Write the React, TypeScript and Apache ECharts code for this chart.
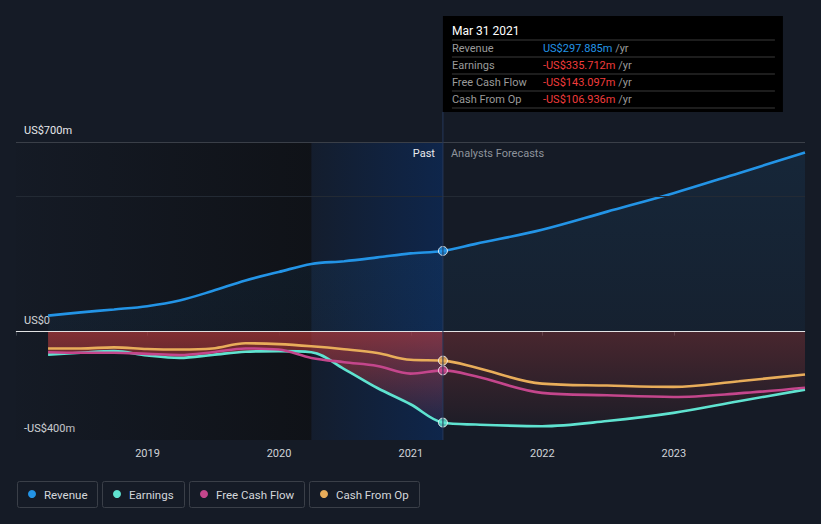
import React, { useEffect, useRef } from 'react';
import * as echarts from 'echarts';

// ---- data ----
const pastDates = ['2018-03-31', '2018-06-30', '2018-09-30', '2018-12-31', '2019-03-31', '2019-06-30', '2019-09-30', '2019-12-31', '2020-03-31', '2020-06-30', '2020-09-30', '2020-12-31', '2021-03-31'];
const forecastDates = ['2021-06-30', '2021-12-31', '2022-06-30', '2022-12-31', '2023-06-30', '2023-12-31'];

const revenuePast = [59, 71, 82, 94, 115, 150, 189, 220, 250, 260, 274, 289, 297.885];
const earningsPast = [-85, -78, -72, -88, -97, -86, -74, -72, -76, -138, -208, -268, -335.712];
const fcfPast = [-76, -78, -78, -82, -86, -76, -62, -66, -97, -113, -127, -155, -143.097];
const cfoPast = [-62, -62, -58, -64, -66, -62, -43, -46, -54, -65, -79, -104, -106.936];

const revenueForecast = [324, 376, 443, 511, 585, 661];
const earningsForecast = [-343, -349, -330, -300, -257, -214];
const fcfForecast = [-165, -226, -235, -241, -228, -207];
const cfoForecast = [-132, -192, -199, -204, -183, -158];

const seriesNames = ['Revenue', 'Earnings', 'Free Cash Flow', 'Cash From Op'];
const seriesColors = ['#2394e6', '#5fe3d0', '#c4468c', '#e8ad5a'];

const yMin = -400;
const yMax = 700;
const yInterval = 100;
const yLabelValues = [700, 0, -400];
const yLabelTexts = ['US$700m', 'US$0', '-US$400m'];
const gridValues = [700, 500];

const xMinDate = '2018-01-01';
const xMaxDate = '2023-12-31';
const highlightStartDate = '2020-03-31';
const tooltipTitle = 'Mar 31 2021';
const pastLabel = 'Past';
const forecastLabel = 'Analysts Forecasts';

const FONT = 'Roboto, "Noto Sans", sans-serif';

const ts = (s: string) => {
  const [y, m, d] = s.split('-').map(Number);
  return new Date(y, m - 1, d).getTime();
};

const pairs = (dates: string[], vals: number[]) => dates.map((d, i) => [ts(d), vals[i]]);
const lastPast = pastDates[pastDates.length - 1];
const fullDates = [...pastDates, ...forecastDates];
const revenueAll = [...revenuePast, ...revenueForecast];
const earningsAll = [...earningsPast, ...earningsForecast];
const fcfAll = [...fcfPast, ...fcfForecast];
const cfoAll = [...cfoPast, ...cfoForecast];
const allSeries = [revenueAll, earningsAll, fcfAll, cfoAll];
const lastValues = [revenuePast, earningsPast, fcfPast, cfoPast].map((a) => a[a.length - 1]);

const fmt = (v: number) => (v < 0 ? '-' : '') + 'US$' + Math.abs(v).toFixed(3) + 'm';

const lin = (x2: number, y2: number, stops: [number, string][]) =>
  new echarts.graphic.LinearGradient(0, 0, x2, y2, stops.map(([offset, color]) => ({ offset, color })));

export default function App() {
  const ref = useRef<HTMLDivElement>(null);

  useEffect(() => {
    document.body.style.margin = '0';
    const chart = echarts.init(ref.current!, null, { renderer: 'svg' });

    const SMOOTH = 0.35;

    const lineSeries = allSeries.map((vals, i) => ({
      name: seriesNames[i],
      type: 'line',
      data: pairs(fullDates, vals),
      smooth: SMOOTH,
      symbol: 'none',
      z: 3,
      lineStyle: { color: seriesColors[i], width: 2.6 },
      itemStyle: { color: seriesColors[i] },
      areaStyle: i === 0 ? { color: lin(0, 1, [[0, 'rgba(33,150,243,0.13)'], [1, 'rgba(33,150,243,0.07)']]) } : undefined,
      silent: true,
    }));

    const option: any = {
      animation: false,
      backgroundColor: '#151b26',
      textStyle: { fontFamily: FONT },
      grid: { left: 16, right: 16, top: 142, bottom: 84, containLabel: false },
      xAxis: {
        type: 'time',
        min: ts(xMinDate),
        max: ts(xMaxDate),
        minInterval: 365 * 24 * 3600 * 1000,
        maxInterval: 366 * 24 * 3600 * 1000,
        axisLine: { show: true, lineStyle: { color: '#3c424c', width: 1 } },
        axisTick: { show: true, length: 4, lineStyle: { color: '#3c424c' } },
        splitLine: { show: false },
        axisLabel: {
          formatter: (v: number) => (v <= ts(xMinDate) ? '' : String(new Date(v).getFullYear())),
          color: '#cfd3d8',
          fontSize: 11,
          fontFamily: FONT,
          margin: 8,
        },
      },
      yAxis: {
        type: 'value',
        min: yMin,
        max: yMax,
        interval: yInterval,
        axisLine: { show: false },
        axisTick: { show: false },
        splitLine: { show: false },
        axisLabel: {
          inside: true,
          margin: 8,
          color: '#e6e8eb',
          fontSize: 11,
          fontFamily: FONT,
          verticalAlign: 'bottom',
          lineHeight: 13,
          padding: [0, 0, 5, 0],
          formatter: (v: number) => {
            const k = yLabelValues.indexOf(v);
            return k >= 0 ? yLabelTexts[k] : '';
          },
        },
      },
      series: [
        {
          type: 'line',
          data: [[ts(xMinDate), 0]],
          symbol: 'none',
          lineStyle: { opacity: 0 },
          z: 0,
          silent: true,
          markArea: {
            silent: true,
            data: [
              [
                {
                  xAxis: ts(xMinDate),
                  itemStyle: { color: lin(1, 0, [[0, 'rgba(14,16,20,0.05)'], [1, 'rgba(14,16,20,0.8)']]) },
                },
                { xAxis: ts(highlightStartDate) },
              ],
              [
                {
                  xAxis: ts(highlightStartDate),
                  itemStyle: { color: lin(1, 0, [[0, 'rgba(10,45,100,0.12)'], [1, 'rgba(10,45,100,0.6)']]) },
                },
                { xAxis: ts(lastPast) },
              ],
            ],
          },
          markLine: {
            silent: true,
            symbol: 'none',
            label: { show: false },
            data: gridValues.map((v, i) => ({
              yAxis: v,
              lineStyle: { color: i === 0 ? '#3a3f48' : '#232a34', width: 1, type: 'solid' },
            })),
          },
        },
        {
          type: 'line',
          data: pairs(pastDates, earningsPast),
          smooth: SMOOTH,
          symbol: 'none',
          lineStyle: { width: 0, opacity: 0 },
          z: 1,
          silent: true,
          areaStyle: { color: lin(0, 1, [[0, 'rgba(215,65,65,0.8)'], [1, 'rgba(215,65,65,0.12)']]) },
        },
        {
          type: 'line',
          data: pairs([lastPast, ...forecastDates], [lastValues[1], ...earningsForecast]),
          smooth: SMOOTH,
          symbol: 'none',
          lineStyle: { width: 0, opacity: 0 },
          z: 1,
          silent: true,
          areaStyle: { color: lin(0, 1, [[0, 'rgba(215,70,70,0.38)'], [1, 'rgba(215,70,70,0.06)']]) },
        },
        ...lineSeries,
        {
          type: 'line',
          data: [[ts(xMinDate), 0]],
          symbol: 'none',
          lineStyle: { opacity: 0 },
          z: 4,
          silent: true,
          markLine: {
            silent: true,
            symbol: 'none',
            label: { show: false },
            data: [{ yAxis: 0, lineStyle: { color: 'rgba(255,255,255,0.85)', width: 1, type: 'solid' } }],
          },
        },
        {
          type: 'scatter',
          z: 5,
          silent: true,
          symbolSize: 9,
          data: lastValues.map((v, i) => ({
            value: [ts(lastPast), v],
            itemStyle: { color: seriesColors[i], borderColor: '#ffffff', borderWidth: 1 },
          })),
        },
      ],
    };

    chart.setOption(option);

    const [cx, yTop] = chart.convertToPixel({ gridIndex: 0 }, [ts(lastPast), yMax]) as number[];
    const [, yBottom] = chart.convertToPixel({ gridIndex: 0 }, [ts(lastPast), yMin]) as number[];

    const boxTop = 16;
    const boxW = 340;
    const boxH = 96;
    const rowH = 17;
    const graphic: any[] = [];
    const F11 = `11px ${FONT}`;

    graphic.push({
      type: 'line',
      silent: true,
      z: 10,
      shape: { x1: cx, y1: boxTop + boxH, x2: cx, y2: yBottom },
      style: { stroke: '#25385a', lineWidth: 1 },
    });
    graphic.push({
      type: 'text',
      silent: true,
      z: 10,
      x: cx - 8,
      y: yTop + 11,
      style: { text: pastLabel, fill: '#e8eaed', font: F11, align: 'right', verticalAlign: 'middle' },
    });
    graphic.push({
      type: 'text',
      silent: true,
      z: 10,
      x: cx + 8,
      y: yTop + 11,
      style: { text: forecastLabel, fill: '#8e939b', font: F11, align: 'left', verticalAlign: 'middle' },
    });

    // tooltip box
    graphic.push({
      type: 'rect',
      silent: true,
      z: 20,
      shape: { x: cx, y: boxTop, width: boxW, height: boxH },
      style: { fill: '#000000' },
    });
    graphic.push({
      type: 'text',
      silent: true,
      z: 21,
      x: cx + 9,
      y: boxTop + 15,
      style: { text: tooltipTitle, fill: '#ffffff', font: `12px ${FONT}`, verticalAlign: 'middle' },
    });
    seriesNames.forEach((name, i) => {
      const sepY = boxTop + 24 + i * rowH;
      graphic.push({
        type: 'line',
        silent: true,
        z: 21,
        shape: { x1: cx + 9, y1: sepY, x2: cx + boxW - 8, y2: sepY },
        style: { stroke: '#3a3a3a', lineWidth: 1 },
      });
      const rowY = sepY + 8.5;
      graphic.push({
        type: 'text',
        silent: true,
        z: 21,
        x: cx + 9,
        y: rowY,
        style: { text: name, fill: '#9a9a9a', font: F11, verticalAlign: 'middle' },
      });
      const v = lastValues[i];
      const vc = i === 0 ? '#2394e6' : '#f03c3c';
      graphic.push({
        type: 'text',
        silent: true,
        z: 21,
        x: cx + 100,
        y: rowY,
        style: {
          text: `{v|${fmt(v)}} {u|/yr}`,
          font: F11,
          verticalAlign: 'middle',
          rich: {
            v: { fill: vc, color: vc, fontSize: 11, fontFamily: FONT },
            u: { fill: '#9a9a9a', color: '#9a9a9a', fontSize: 11, fontFamily: FONT },
          },
        },
      });
    });
    const lastSep = boxTop + 24 + seriesNames.length * rowH;
    graphic.push({
      type: 'line',
      silent: true,
      z: 21,
      shape: { x1: cx + 9, y1: lastSep, x2: cx + boxW - 8, y2: lastSep },
      style: { stroke: '#3a3a3a', lineWidth: 1 },
    });

    // legend
    const legendBoxes = [
      { x: 17, w: 80 },
      { x: 102, w: 82 },
      { x: 189, w: 115 },
      { x: 309, w: 110 },
    ];
    const legTop = 481;
    const legH = 26;
    seriesNames.forEach((name, i) => {
      const b = legendBoxes[i];
      graphic.push({
        type: 'rect',
        silent: true,
        z: 10,
        shape: { x: b.x + 0.5, y: legTop + 0.5, width: b.w, height: legH, r: 2 },
        style: { fill: 'transparent', stroke: '#3a3f48', lineWidth: 1 },
      });
      graphic.push({
        type: 'circle',
        silent: true,
        z: 11,
        shape: { cx: b.x + 15, cy: legTop + legH / 2, r: 4 },
        style: { fill: seriesColors[i] },
      });
      graphic.push({
        type: 'text',
        silent: true,
        z: 11,
        x: b.x + 27,
        y: legTop + legH / 2 + 0.5,
        style: { text: name, fill: '#d4d7db', font: `11.5px ${FONT}`, verticalAlign: 'middle' },
      });
    });

    chart.setOption({ graphic });

    return () => chart.dispose();
  }, []);

  return <div ref={ref} style={{ width: 821, height: 524 }} />;
}
